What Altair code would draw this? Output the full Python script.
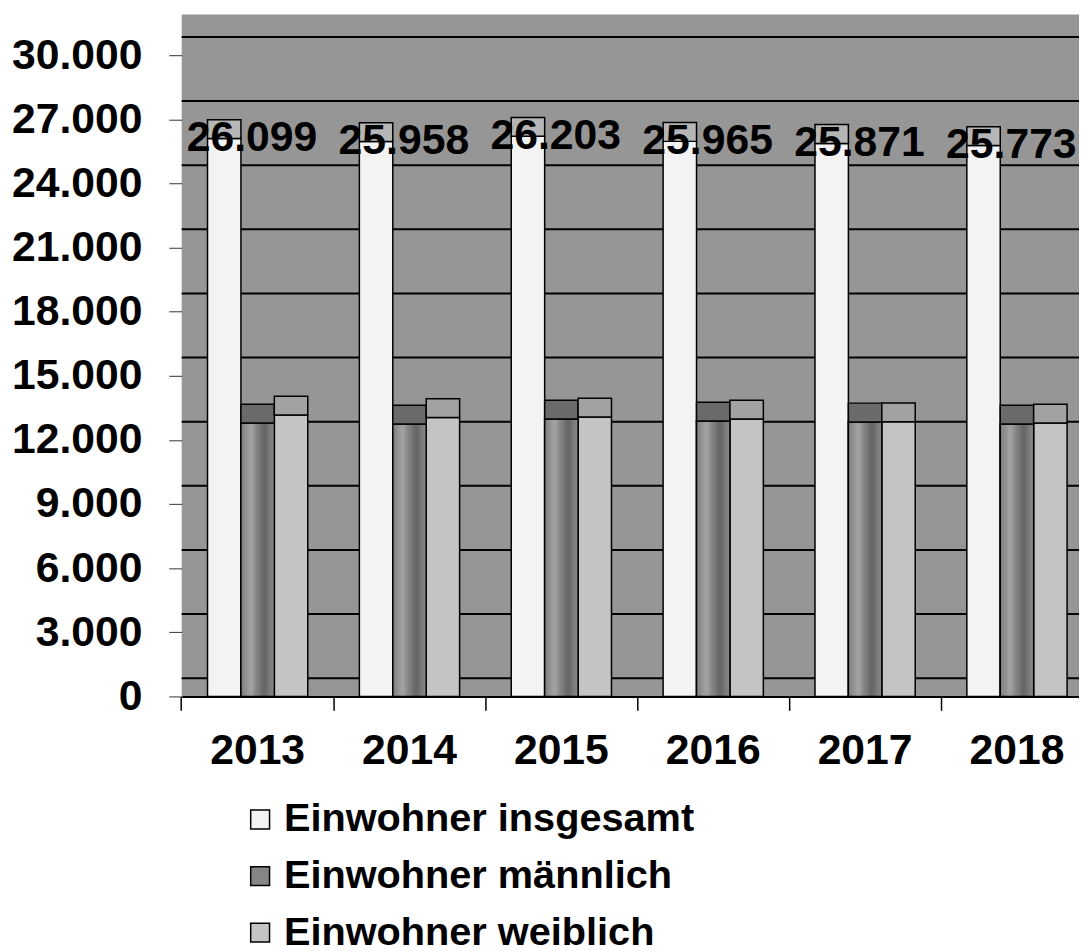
import altair as alt
import pandas as pd

# ---- data ----
years = ["2013", "2014", "2015", "2016", "2017", "2018"]
series = ["Einwohner insgesamt", "Einwohner männlich", "Einwohner weiblich"]
insgesamt = [26099, 25958, 26203, 25965, 25871, 25773]
maennlich = [12790, 12740, 12980, 12880, 12840, 12740]
weiblich = [13160, 13050, 13070, 12980, 12850, 12790]
y_ticks = [0, 3000, 6000, 9000, 12000, 15000, 18000, 21000, 24000, 27000, 30000]

rows = []
for i, yr in enumerate(years):
    rows.append({"Jahr": yr, "Serie": series[0], "Wert": insgesamt[i]})
    rows.append({"Jahr": yr, "Serie": series[1], "Wert": maennlich[i]})
    rows.append({"Jahr": yr, "Serie": series[2], "Wert": weiblich[i]})
df = pd.DataFrame(rows)
grid_df = pd.DataFrame({"Wert": y_ticks})

FONT = "Liberation Sans, Arial, Helvetica, sans-serif"
W, H = 904, 687
YMAX = 31900
CAP_DEPTH = 880      # 3D top face depth (data units)
WALL_DEPTH = 850     # back-wall offset of gridlines (data units)
PAD_IN = 0.34

x_scale = alt.Scale(domain=years, range=[0, 918], paddingInner=PAD_IN, paddingOuter=PAD_IN / 2)
y_scale = alt.Scale(domain=[0, YMAX], nice=False, zero=True)
off_scale = alt.Scale(domain=series, paddingInner=0, paddingOuter=0)
color_scale = alt.Scale(domain=series, range=["#f3f3f3", "#858585", "#c4c4c4"])

x_axis_labels = alt.Axis(
    title=None, labelAngle=0, orient="bottom", ticks=False,
    labelFont=FONT, labelFontSize=43, labelFontWeight="bold", labelColor="black",
    labelPadding=34, domainColor="black", domainWidth=2, labelOverlap=False, grid=False,
)
x_axis_ticks = alt.Axis(
    title=None, orient="bottom", labels=False, domain=False, grid=False,
    bandPosition=-(PAD_IN / 2) / (1 - PAD_IN),
    tickSize=14, tickColor="black", tickWidth=1.5,
)
y_axis = alt.Axis(
    title=None, values=y_ticks, format=",d", grid=False, domain=False,
    labelFont=FONT, labelFontSize=43, labelFontWeight="bold", labelColor="black",
    labelPadding=27, tickSize=13, tickColor="#333333", tickWidth=1,
)

grid = (
    alt.Chart(grid_df)
    .transform_calculate(g=f"datum.Wert + {WALL_DEPTH}")
    .mark_rule(color="black", strokeWidth=2)
    .encode(y=alt.Y("g:Q", scale=y_scale, axis=y_axis))
)

bars = alt.Chart(df).mark_bar(stroke="black", strokeWidth=1.5).encode(
    x=alt.X("Jahr:N", scale=x_scale, axis=x_axis_labels),
    xOffset=alt.XOffset("Serie:N", scale=off_scale),
    y=alt.Y("Wert:Q", scale=y_scale, axis=y_axis, stack=None),
    color=alt.Color(
        "Serie:N", scale=color_scale,
        legend=alt.Legend(
            title=None, orient="none", legendX=59, legendY=791, direction="vertical",
            symbolType="square", symbolSize=361, symbolStrokeColor="black",
            symbolStrokeWidth=1.5, labelFont=FONT, labelFontSize=40,
            labelFontWeight="bold", labelColor="black", labelOffset=4,
            rowPadding=17, padding=0, labelLimit=0,
        ),
    ),
)

# vertical stripe shading of the "männlich" bars
stripes = (
    alt.Chart(df)
    .transform_filter(alt.datum.Serie == series[1])
    .mark_bar(
        stroke="black", strokeWidth=1.5,
        fill=alt.LinearGradient(
            gradient="linear", x1=0, x2=1, y1=0, y2=0,
            stops=[
                alt.GradientStop(offset=0, color="#7e7e7e"),
                alt.GradientStop(offset=0.3, color="#a4a4a4"),
                alt.GradientStop(offset=0.45, color="#888888"),
                alt.GradientStop(offset=0.7, color="#646464"),
                alt.GradientStop(offset=1, color="#8c8c8c"),
            ],
        ),
    )
    .encode(
        x=alt.X("Jahr:N", scale=x_scale, axis=x_axis_ticks),
        xOffset=alt.XOffset("Serie:N", scale=off_scale),
        y=alt.Y("Wert:Q", scale=y_scale, stack=None),
    )
)

caps = (
    alt.Chart(df)
    .transform_calculate(
        top=f"datum.Wert + {CAP_DEPTH}",
        cap=f"datum.Serie == '{series[0]}' ? '#b6b6b6' : (datum.Serie == '{series[1]}' ? '#6a6a6a' : '#a2a2a2')",
    )
    .mark_bar(stroke="black", strokeWidth=1.5)
    .encode(
        x=alt.X("Jahr:N", scale=x_scale, axis=None),
        xOffset=alt.XOffset("Serie:N", scale=off_scale),
        y=alt.Y("Wert:Q", scale=y_scale),
        y2="top:Q",
        fill=alt.Fill("cap:N", scale=None),
    )
)

labels = (
    alt.Chart(df)
    .transform_filter(alt.datum.Serie == series[0])
    .mark_text(font=FONT, fontSize=43, fontWeight="bold", color="black",
               baseline="middle", align="center", dx=28)
    .encode(
        x=alt.X("Jahr:N", scale=x_scale, axis=None),
        xOffset=alt.XOffset("Serie:N", scale=off_scale),
        y=alt.Y("Wert:Q", scale=y_scale),
        text=alt.Text("Wert:Q", format=",d"),
    )
)

chart = (
    alt.layer(grid, bars, stripes, caps, labels)
    .resolve_axis(x="independent")
    .properties(
        width=W, height=H,
        autosize=alt.AutoSizeParams(type="none"),
        padding={"left": 175, "top": 3, "right": 0, "bottom": 262},
        background="white",
    )
    .configure(locale={"number": {"decimal": ",", "thousands": ".", "grouping": [3], "currency": ["", " €"]}})
    .configure_view(fill="#969696", stroke=None)
)

chart.save("out.html", embed_options={"renderer": "svg", "actions": False})
